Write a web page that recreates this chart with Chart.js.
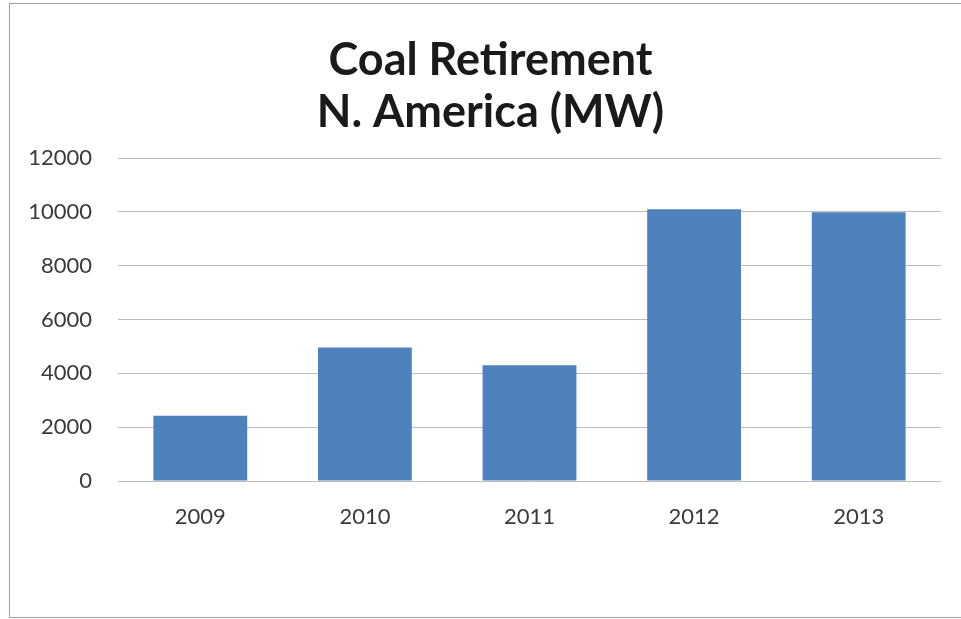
<!DOCTYPE html>
<html>
<head>
<meta charset="utf-8">
<script src="https://cdn.jsdelivr.net/npm/chart.js@4"></script>
<style>
  html, body { margin: 0; padding: 0; background: #fff; overflow: hidden; }
  #wrap { position: relative; width: 961px; height: 619px; }
  #frame {
    position: absolute; left: 9px; top: 3px; width: 960px; height: 613px;
    border: 1.5px solid #a0a0a0; border-right: none; pointer-events: none;
  }
</style>
</head>
<body>
<div id="wrap">
  <canvas id="chart"></canvas>
  <div id="frame"></div>
</div>
<script>
const years = ["2009", "2010", "2011", "2012", "2013"];
const retiredMW = [2420, 4960, 4300, 10100, 9980];
const titleLines = ["Coal Retirement", "N. America (MW)"];
const yMin = 0;
const yMax = 12000;
const yStep = 2000;

const FONT = "Lato, 'Open Sans', sans-serif";

new Chart(document.getElementById("chart"), {
  type: "bar",
  data: {
    labels: years,
    datasets: [{
      label: "MW",
      data: retiredMW,
      backgroundColor: "#4f81bd",
      borderWidth: 0,
      categoryPercentage: 1,
      barPercentage: 0.57
    }]
  },
  options: {
    responsive: true,
    maintainAspectRatio: false,
    animation: false,
    // title is centred a little right of the canvas middle, so pad left
    // and keep the plot's right edge with an empty right-hand axis
    layout: { padding: { left: 20, right: 0, top: 0, bottom: 88 } },
    plugins: {
      legend: { display: false },
      tooltip: { enabled: false },
      title: {
        display: true,
        text: titleLines,
        color: "#1a1a1a",
        font: { family: FONT, size: 45, weight: "bold", lineHeight: 52 / 45 },
        padding: { top: 34, bottom: 20 }
      }
    },
    scales: {
      x: {
        grid: { display: false, drawTicks: false },
        border: { display: false },
        ticks: { color: "#3a3a3a", font: { family: FONT, size: 22 }, padding: 23 },
        afterFit: (s) => { s.height = 50; }
      },
      y: {
        min: yMin,
        max: yMax,
        grid: { color: "#bdbdbd", drawTicks: false },
        border: { display: false },
        ticks: {
          stepSize: yStep,
          color: "#3a3a3a",
          font: { family: FONT, size: 22 },
          padding: 26,
          callback: (v) => String(v)
        },
        afterFit: (s) => { s.width = 98; }
      },
      yRight: {
        position: "right",
        grid: { display: false, drawTicks: false },
        border: { display: false },
        ticks: { display: false },
        afterFit: (s) => { s.width = 20; }
      }
    }
  }
});
</script>
</body>
</html>
